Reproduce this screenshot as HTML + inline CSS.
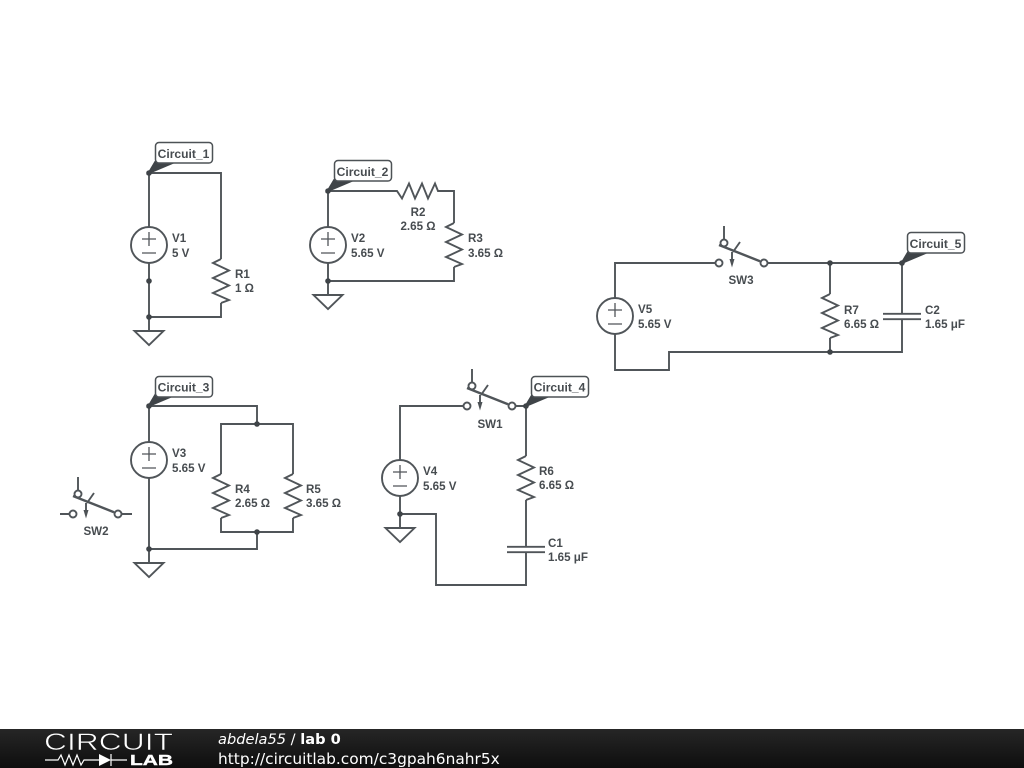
<!DOCTYPE html>
<html><head><meta charset="utf-8"><style>
html,body{margin:0;padding:0;background:#fff;width:1024px;height:768px;overflow:hidden}
svg{display:block}
.w{fill:none;stroke:#505559;stroke-width:1.9}
.t{font-family:"Liberation Sans",sans-serif;font-weight:bold;font-size:11.6px;fill:#474c50}
.l{font-size:12.1px}
.m{text-anchor:middle}
.b{fill:#fff;stroke:#4d5256;stroke-width:1.5}
</style></head><body>
<svg width="1024" height="768" viewBox="0 0 1024 768" xmlns="http://www.w3.org/2000/svg">
<defs>
<g id="res"><path class="w" d="M0,-22L-8,-18L8,-10.500L-8,-3L8,4.500L-8,12L8,19L0,22"/></g>
<g id="vs"><circle class="w" r="18" fill="#fff"/><path class="w" style="stroke-width:1.3" d="M-7,-6H7M0,-13V1M-7,8H7"/></g>
<g id="gnd"><path class="w" d="M-14.500,0H14.500L0,14Z"/></g>
<g id="dot"><circle r="2.800" fill="#3f4448"/></g>
<g id="cap"><path class="w" d="M-19,-2.700H19M-19,2.700H19"/></g>
<g id="sw">
<circle class="w" cx="0" cy="0" r="3.500"/><circle class="w" cx="45" cy="0" r="3.500"/><circle class="w" cx="5" cy="-20" r="3.500"/>
<path class="w" d="M5,-37V-23.500M21,-21L14,-11M13,-11V-1"/>
<path class="w" style="stroke-width:2.400" d="M0,-18L41,-1.800"/>
<path d="M13,4.500L10.500,-4H15.500Z" fill="#4d5256"/>
</g>
</defs>

<!-- Circuit 1 -->
<path class="w" d="M149,173H221V259M221,303V317H149M149,173V227M149,263V331"/>
<use href="#res" x="221" y="281"/><use href="#vs" x="149" y="245"/><use href="#gnd" x="149" y="331"/>
<use href="#dot" x="149" y="281"/><use href="#dot" x="149" y="317"/>
<text class="t" x="172" y="242">V1</text><text class="t" x="172" y="257">5 V</text>
<text class="t" x="235" y="278">R1</text><text class="t" x="235" y="292">1 Ω</text>

<!-- Circuit 2 -->
<path class="w" d="M328,191V227M328,263V295M328,191H397L402,198.500L409,183.500L415,198.500L422,183.500L428,198.500L435,183.500L438,191H454V223M454,267V281H328"/>
<use href="#res" x="454" y="245"/>
<use href="#vs" x="328" y="245"/><use href="#gnd" x="328" y="295"/><use href="#dot" x="328" y="281"/>
<text class="t" x="351" y="242">V2</text><text class="t" x="351" y="257">5.65 V</text>
<text class="t m" x="418" y="216">R2</text><text class="t m" x="418" y="230">2.65 Ω</text>
<text class="t" x="468" y="242">R3</text><text class="t" x="468" y="257">3.65 Ω</text>

<!-- Circuit 3 -->
<path class="w" d="M149,406H257V424M221,474V424H293V474M221,518V532H293V518M257,532V549H149M149,406V442M149,478V563"/>
<use href="#res" x="221" y="496"/><use href="#res" x="293" y="496"/>
<use href="#vs" x="149" y="460"/><use href="#gnd" x="149" y="563"/>
<use href="#dot" x="257" y="424"/><use href="#dot" x="257" y="532"/><use href="#dot" x="149" y="549"/>
<text class="t" x="172" y="457">V3</text><text class="t" x="172" y="472">5.65 V</text>
<text class="t" x="235" y="493">R4</text><text class="t" x="235" y="507">2.65 Ω</text>
<text class="t" x="306" y="493">R5</text><text class="t" x="306" y="507">3.65 Ω</text>
<path class="w" d="M60,514H69.500M121.500,514H132"/>
<use href="#sw" x="73" y="514"/>
<text class="t m" x="96" y="535">SW2</text>

<!-- Circuit 4 -->
<path class="w" d="M400,460V406H463.500M515.500,406H526V456M526,500V546.500M526,552V585H436V514H400M400,496V528"/>
<use href="#sw" x="467" y="406"/><use href="#res" x="526" y="478"/><use href="#cap" x="526" y="549.500"/>
<use href="#vs" x="400" y="478"/><use href="#gnd" x="400" y="528"/><use href="#dot" x="400" y="514"/>
<text class="t" x="423" y="475">V4</text><text class="t" x="423" y="490">5.65 V</text>
<text class="t m" x="490" y="428">SW1</text>
<text class="t" x="539" y="475">R6</text><text class="t" x="539" y="489">6.65 Ω</text>
<text class="t" x="548" y="547">C1</text><text class="t" x="548" y="561">1.65 μF</text>

<!-- Circuit 5 -->
<path class="w" d="M615,298V263H715.500M766.500,263H902V313.500M902,319V352H669V370H615V334M830,263V294M830,338V352"/>
<use href="#sw" x="719" y="263"/><use href="#res" x="830" y="316"/><use href="#cap" x="902" y="316.500"/>
<use href="#vs" x="615" y="316"/><use href="#dot" x="830" y="263"/><use href="#dot" x="830" y="352"/>
<text class="t" x="638" y="313">V5</text><text class="t" x="638" y="328">5.65 V</text>
<text class="t m" x="741" y="284">SW3</text>
<text class="t" x="844" y="314">R7</text><text class="t" x="844" y="328">6.65 Ω</text>
<text class="t" x="925" y="314">C2</text><text class="t" x="925" y="328">1.65 μF</text>

<!-- Net labels -->
<g>
<path d="M147,174.500L155,161H179Z" fill="#3f4448" stroke="#3f4448" stroke-width=".6"/><rect x="155.500" y="142.500" width="57" height="20.500" rx="3.500" class="b"/><text class="t l m" x="183.500" y="158">Circuit_1</text><circle cx="149" cy="173" r="2.800" fill="#3f4448"/>
<path d="M326,192.500L334,179H358Z" fill="#3f4448" stroke="#3f4448" stroke-width=".6"/><rect x="334.500" y="160.500" width="57" height="20.500" rx="3.500" class="b"/><text class="t l m" x="362.500" y="176">Circuit_2</text><circle cx="328" cy="191" r="2.800" fill="#3f4448"/>
<path d="M147,407.500L155,394H179Z" fill="#3f4448" stroke="#3f4448" stroke-width=".6"/><rect x="155.500" y="376.500" width="57" height="20.500" rx="3.500" class="b"/><text class="t l m" x="183.500" y="391.500">Circuit_3</text><circle cx="149" cy="406" r="2.800" fill="#3f4448"/>
<path d="M524,407.500L532,394H556Z" fill="#3f4448" stroke="#3f4448" stroke-width=".6"/><rect x="531.500" y="376.500" width="57" height="20.500" rx="3.500" class="b"/><text class="t l m" x="559.500" y="391.500">Circuit_4</text><circle cx="526" cy="406" r="2.800" fill="#3f4448"/>
<path d="M900,264.500L908,251H932Z" fill="#3f4448" stroke="#3f4448" stroke-width=".6"/><rect x="907.500" y="232.500" width="57" height="20.500" rx="3.500" class="b"/><text class="t l m" x="935.500" y="248">Circuit_5</text><circle cx="902" cy="263" r="2.800" fill="#3f4448"/>
</g>

<!-- Footer -->
<defs><linearGradient id="fg" x1="0" y1="0" x2="0" y2="1"><stop offset="0" stop-color="#262626"/><stop offset="1" stop-color="#0e0e0e"/></linearGradient></defs>
<rect x="0" y="729" width="1024" height="39" fill="url(#fg)"/>
<text x="44" y="750" font-family="Liberation Sans,sans-serif" font-size="24" fill="#fff" stroke="#1d1d1d" stroke-width="0.600" textLength="129" lengthAdjust="spacingAndGlyphs">CIRCUIT</text>
<path d="M45,760H58L61,755L65,765L69,755L73,765L77,755L81,765L84,760H99M111,754V766M111,760H127" fill="none" stroke="#fff" stroke-width="1.200"/>
<path d="M99,754L111,760L99,766Z" fill="#fff"/>
<text x="130" y="765" font-family="Liberation Sans,sans-serif" font-weight="bold" font-size="15" fill="#fff" stroke="#fff" stroke-width=".4" textLength="43" lengthAdjust="spacingAndGlyphs">LAB</text>
<text x="218" y="744" font-family="DejaVu Sans,sans-serif" font-size="14.600" fill="#fff"><tspan font-style="oblique">abdela55</tspan> / <tspan font-weight="bold">lab 0</tspan></text>
<text x="218" y="764" font-family="DejaVu Sans,sans-serif" font-size="15.400" fill="#fff">http://circuitlab.com/c3gpah6nahr5x</text>
</svg>
</body></html>
